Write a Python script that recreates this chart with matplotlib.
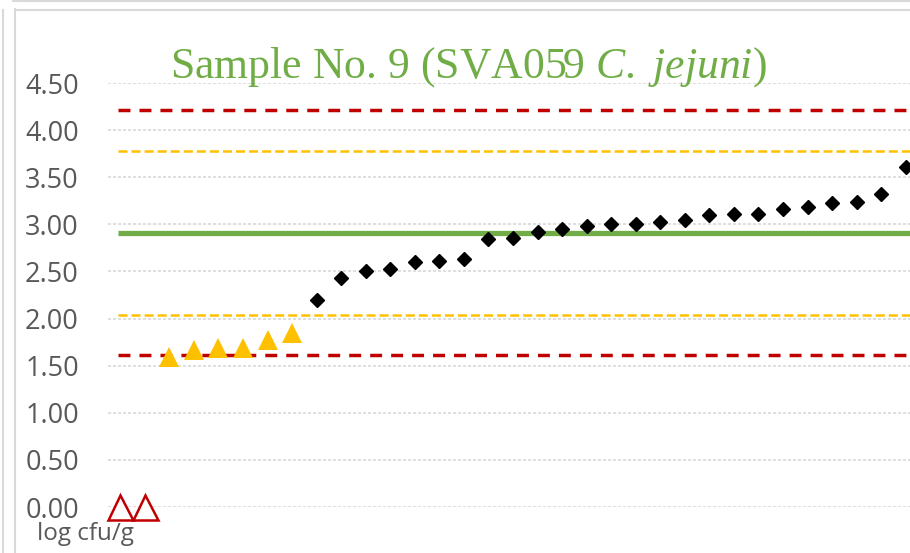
import numpy as np
import matplotlib
matplotlib.use("Agg")
from matplotlib import pyplot as plt
from matplotlib.lines import Line2D

# values (log cfu/g)
below_limit = [0.00, 0.00]
low_results = [1.59, 1.67, 1.69, 1.69, 1.77, 1.85]
results = [2.20, 2.43, 2.51, 2.53, 2.60, 2.61, 2.63, 2.84, 2.86, 2.92,
           2.95, 2.98, 3.00, 3.00, 3.02, 3.05, 3.10, 3.11, 3.11, 3.16,
           3.18, 3.23, 3.24, 3.32, 3.61]
assigned_value = 2.91
outer_limits = [1.61, 4.21]
inner_limits = [2.04, 3.78]
y_ticks = [0.0, 0.5, 1.0, 1.5, 2.0, 2.5, 3.0, 3.5, 4.0, 4.5]

plt.rcParams['lines.scale_dashes'] = False
plt.rcParams['mathtext.fontset'] = 'custom'
plt.rcParams['mathtext.rm'] = 'Liberation Serif'
plt.rcParams['mathtext.it'] = 'Liberation Serif:italic'

n = len(below_limit) + len(low_results) + len(results)
x_all = np.arange(n)
x_below = x_all[:len(below_limit)]
x_low = x_all[len(below_limit):len(below_limit) + len(low_results)]
x_res = x_all[len(below_limit) + len(low_results):]

fig = plt.figure(figsize=(9.10, 5.53), dpi=100)
W, H = 910, 553
left, right, top, bottom = 108, 918, 83, 507
ax = fig.add_axes([left / W, 1 - bottom / H, (right - left) / W, (bottom - top) / H])

ax.set_xlim(-0.5, n - 0.5)
ax.set_ylim(0, 4.5)
ax.set_yticks(y_ticks)
ax.set_yticklabels(['%.2f' % v for v in y_ticks], fontfamily='Open Sans',
                   fontsize=19.5, color='#595959')
ax.tick_params(axis='y', length=0, pad=21)
ax.set_xticks([])
for s in ax.spines.values():
    s.set_visible(False)
ax.grid(axis='y', color='#D9D9D9', linestyle=(0, (2.2, 1.4)), linewidth=1.2)
ax.set_axisbelow(True)

x0, x1 = -0.08, n + 1
for v in outer_limits:
    ax.plot([x0, x1], [v, v], color='#C00000', linewidth=2.5,
            linestyle=(0, (8.6, 6.5)), zorder=2)
for v in inner_limits:
    ax.plot([x0, x1], [v, v], color='#FFC000', linewidth=1.8,
            linestyle=(0, (6.5, 2.9)), zorder=2)
ax.plot([x0, x1], [assigned_value, assigned_value], color='#70AD47',
        linewidth=3.8, solid_capstyle='butt', zorder=2)

ax.plot(x_res, results, linestyle='none', marker='D', markersize=7.3,
        color='black', zorder=3)
ax.plot(x_low, low_results, linestyle='none', marker='^', markersize=15,
        color='#FFC000', markeredgewidth=0, zorder=3)
ax.plot(x_below, below_limit, linestyle='none', marker='^', markersize=18,
        markerfacecolor='white', markeredgecolor='#C00000',
        markeredgewidth=1.8, clip_on=False, zorder=4)

fig.text(468 / W, 1 - 78 / H, r'Sample No. 9 (SVA059 $\mathit{C.\ jejuni}$)',
         fontfamily='Liberation Serif', fontsize=31.5, color='#70AD47',
         ha='center', va='baseline')
fig.text(37 / W, 1 - 540 / H, 'log cfu/g', fontfamily='Open Sans',
         fontsize=17.5, color='#595959', ha='left', va='baseline')

# sheet / chart frame lines
grey = '#D9D9D9'
fig.add_artist(Line2D([2.5 / W, 2.5 / W], [0, 1 - 10 / H], color=grey, lw=1.5))
fig.add_artist(Line2D([13 / W, 1], [1 - 1 / H, 1 - 1 / H], color=grey, lw=1.5))
fig.add_artist(Line2D([15.5 / W, 15.5 / W], [0, 1 - 9 / H], color=grey, lw=1.5))
fig.add_artist(Line2D([15.5 / W, 1], [1 - 9.5 / H, 1 - 9.5 / H], color=grey, lw=1.5))

fig.savefig('out.png', dpi=100)
